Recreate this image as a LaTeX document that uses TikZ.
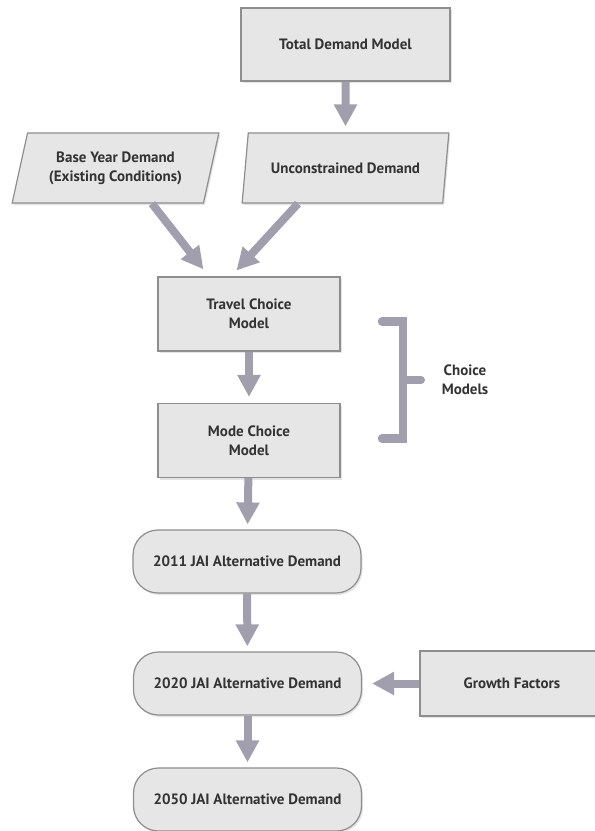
\documentclass[tikz,border=0pt]{standalone}
\usepackage{fontspec}
\setmainfont{PT Sans}
\usetikzlibrary{shapes.geometric,arrows.meta,shadows,calc}
\definecolor{boxfill}{HTML}{E6E6E6}
\definecolor{boxline}{HTML}{8E8E8E}
\definecolor{arrowgray}{HTML}{A19FAE}
\definecolor{textgray}{HTML}{333333}
\tikzset{
  box/.style={draw=boxline, line width=1.2pt, fill=boxfill, text=textgray, inner sep=2pt,
    font=\bfseries\fontsize{15}{19}\selectfont, align=center,
    drop shadow={shadow xshift=1.5pt, shadow yshift=-2pt, fill=black!30, opacity=0.35}},
  modelbox/.style={box, rectangle, minimum width=182pt, minimum height=74pt},
  databox/.style={box, trapezium, trapezium left angle=72, trapezium right angle=108,
    trapezium stretches=true, minimum width=207pt, minimum height=70pt},
  demandbox/.style={box, rectangle, rounded corners=25pt, minimum width=228pt, minimum height=63pt},
  flow/.style={draw=arrowgray, line width=8pt, -{Triangle[width=22pt,length=22pt]}, shorten >=6pt},
}
\begin{document}
\begin{tikzpicture}[x=1pt,y=-1pt]
\useasboundingbox (0,0) rectangle (595,831);
% inputs at the top
\node[modelbox, minimum width=209pt, minimum height=73pt] (tdm) at (345.5,44.5) {Total Demand Model};
\node[databox] (base) at (115.5,168) {Base Year Demand\\(Existing Conditions)};
\node[databox] (unc) at (345.5,168) {Unconstrained Demand};
% the two choice models
\node[modelbox] (tcm) at (249,314) {Travel Choice\\Model};
\node[modelbox] (mcm) at (249,440.5) {Mode Choice\\Model};
% demand by year
\node[demandbox] (d2011) at (247,561.5) {2011 JAI Alternative Demand};
\node[demandbox] (d2020) at (247.5,683.5) {2020 JAI Alternative Demand};
\node[demandbox] (d2050) at (247.5,799.5) {2050 JAI Alternative Demand};
\node[modelbox, minimum width=184pt, minimum height=65pt] (gf) at (512,683.5) {Growth Factors};
% connectors
\draw[flow] (tdm) -- (unc);
\draw[flow, shorten >=9pt] ($(base.bottom left corner)!0.73!(base.bottom right corner)$) -- ([xshift=-40pt]tcm.north);
\draw[flow, shorten >=8pt] ($(unc.bottom left corner)!0.28!(unc.bottom right corner)$) -- ([xshift=-18pt]tcm.north);
\draw[flow] (tcm) -- (mcm);
\draw[flow, shorten >=5pt] (mcm) -- (d2011);
\draw[flow, shorten >=5pt] (d2011) -- (d2020);
\draw[flow, shorten >=5pt] (d2020) -- (d2050);
\draw[flow, shorten >=10pt] (gf) -- (d2020);
% bracket round the choice models
\draw[arrowgray, line width=8.5pt, line cap=round] (382,321.5) -- (403,321.5) -- (403,438.5) -- (382,438.5);
\draw[arrowgray, line width=8pt, line cap=round] (403,380) -- (421,380);
\node[text=textgray, font=\bfseries\fontsize{15}{19}\selectfont, align=center] (choice) at (465,380) {Choice\\Models};
\end{tikzpicture}
\end{document}
